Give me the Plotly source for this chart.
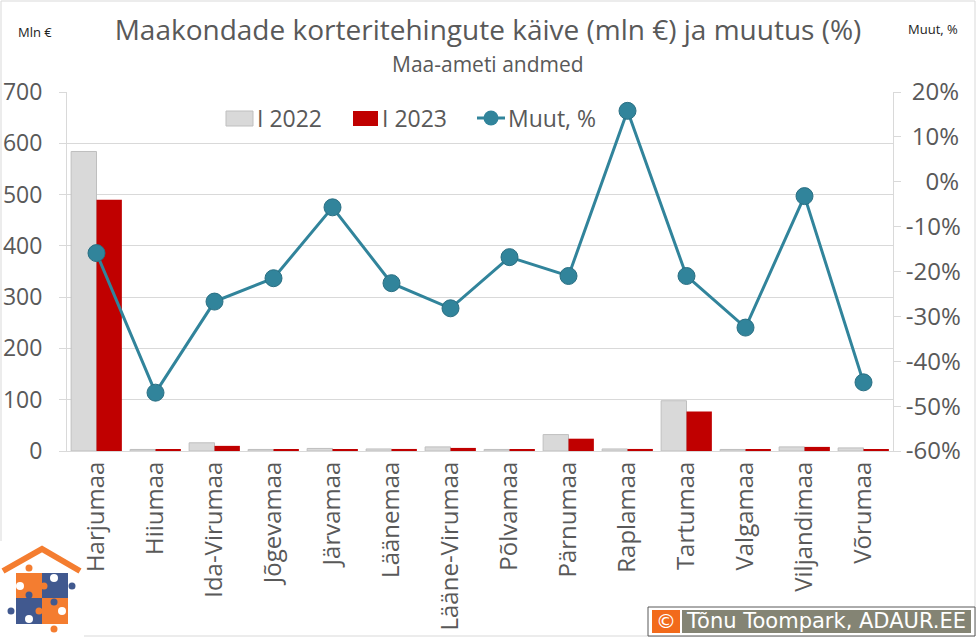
import plotly.graph_objects as go

# Maakondade korteritehingud
counties = ["Harjumaa", "Hiiumaa", "Ida-Virumaa", "Jõgevamaa", "Järvamaa", "Läänemaa", "Lääne-Virumaa",
            "Põlvamaa", "Pärnumaa", "Raplamaa", "Tartumaa", "Valgamaa", "Viljandimaa", "Võrumaa"]
sales_2022 = [584, 3, 16, 3, 5, 4, 8, 3, 32, 4, 98, 3, 8, 6]
sales_2023 = [490, 2.5, 10, 2.5, 3, 4, 6, 2.5, 24, 4, 77, 2, 8, 3]
change_pct = [-15.9, -47, -26.7, -21.5, -5.7, -22.6, -28.2, -16.8, -21, 15.8, -21, -32.5, -3.2, -44.7]
pct_ticks = [20, 10, 0, -10, -20, -30, -40, -50, -60]
# leading spaces keep the right axis labels right-aligned like in the original
pct_labels = ["\u200520%", "\u200510%", "\u2007\u20050%", "-10%", "-20%", "-30%", "-40%", "-50%", "-60%"]

W, H = 976, 637
L, R, T, B = 67, 83, 92, 186
FONT = "Open Sans"
TXT = "#595959"
GRID = "#d9d9d9"
ORANGE = "#f47d30"
BLUE = "#41598f"
TEAL = "#31849b"


# pixel position -> paper coordinates, for the logo, legend and corner texts
def px(x):
    return (x - L) / (W - L - R)


def py(y):
    return 1 - (y - T) / (H - T - B)


def rect(x0, y0, x1, y1, fill, line=None):
    return dict(type="rect", xref="paper", yref="paper", x0=px(x0), y0=py(y0), x1=px(x1), y1=py(y1),
                fillcolor=fill, line=dict(color=line or fill, width=1 if line else 0))


def dot(x, y, r, fill):
    return rect(x - r, y - r, x + r, y + r, fill) | {"type": "circle"}


def label(text, x, y, size, color=TXT, family=FONT, anchor="center"):
    return dict(text=text, x=px(x), y=py(y), xref="paper", yref="paper", showarrow=False, xanchor=anchor,
                yanchor="middle", font=dict(size=size, color=color, family=family))


fig = go.Figure()
fig.add_bar(x=counties, y=sales_2022, name="I 2022", marker=dict(color="#d9d9d9", line=dict(color="#bfbfbf", width=1)))
fig.add_bar(x=counties, y=sales_2023, name="I 2023", marker=dict(color="#c00000", line=dict(width=0)))
fig.add_scatter(x=counties, y=change_pct, name="Muut, %", yaxis="y2", mode="lines+markers",
                line=dict(color=TEAL, width=3),
                marker=dict(size=17, color=TEAL, line=dict(color="#2a6f83", width=1)))

shapes = [
    # chart frame
    rect(1, 1, 975, 636, "rgba(0,0,0,0)", GRID) | {"layer": "below"},
    # legend
    rect(226, 111, 253, 126, "#d9d9d9", "#bfbfbf"),
    rect(353, 111, 378, 126, "#c00000"),
    dict(type="line", xref="paper", yref="paper", x0=px(477), x1=px(505), y0=py(118), y1=py(118),
         line=dict(color=TEAL, width=3)),
    dot(491, 118, 7.5, TEAL),
    # logo
    rect(0, 541, 84, 637, "white"),
    rect(16, 573, 42, 598, ORANGE),
    rect(42, 573, 68, 598, BLUE),
    rect(16, 598, 42, 624, BLUE),
    rect(42, 598, 68, 624, ORANGE),
    dot(29, 568, 3.5, ORANGE),
    dot(20, 586, 4, "white"),
    dot(54, 578, 4, "white"),
    dot(72, 586, 3.5, BLUE),
    dot(44, 586, 3.5, ORANGE),
    dot(29, 595, 3.5, BLUE),
    dot(11, 611, 3.5, BLUE),
    dot(29, 619, 4, "white"),
    dot(39, 611, 3.5, ORANGE),
    dot(62, 611, 4, "white"),
    dot(54, 629, 3.5, ORANGE),
    dot(54, 602, 3.5, BLUE),
    dict(type="path", xref="paper", yref="paper",
         path=f"M {px(3)} {py(571)} L {px(42)} {py(549)} L {px(80)} {py(571)}",
         line=dict(color=ORANGE, width=6)),
    # credit box
    rect(648, 607, 975, 636, "white", "#595959"),
    rect(652, 610, 680, 633, "#f26a1b"),
    rect(682, 610, 971, 633, "#848474"),
]

annotations = [
    label("Maa-ameti andmed", 488, 64, 21),
    label("Mln €", 35, 32, 13, "#222222"),
    label("Muut, %", 933, 29, 13, "#222222"),
    label("I 2022", 255, 118, 23, anchor="left"),
    label("I 2023", 380, 118, 23, anchor="left"),
    label("Muut, %", 506, 118, 23, anchor="left"),
    label("©", 665.5, 621, 20, "white", "DejaVu Sans"),
    label("Tõnu Toompark, ADAUR.EE", 826, 621, 21, "white", "DejaVu Sans"),
]

fig.update_layout(
    width=W, height=H, margin=dict(l=L, r=R, t=T, b=B), autosize=False,
    paper_bgcolor="white", plot_bgcolor="white",
    font=dict(family=FONT, color=TXT),
    showlegend=False,
    barmode="group", bargap=0.14, bargroupgap=0,
    title=dict(text="Maakondade korteritehingute käive (mln €) ja muutus (%)", x=488 / W, xanchor="center",
               y=1 - 30 / H, yanchor="middle", font=dict(size=28, color=TXT, family=FONT)),
    xaxis=dict(tickangle=-90, tickfont=dict(size=24, color=TXT), showline=True, linecolor=GRID, linewidth=1,
               ticks="", showgrid=False, range=[-0.5, 13.5], automargin=False),
    yaxis=dict(range=[0, 700], dtick=100, tickfont=dict(size=23, color=TXT), gridcolor=GRID, gridwidth=1,
               showline=True, linecolor=GRID, ticks="outside", ticklen=7, tickcolor=GRID, zeroline=False,
               automargin=False, ticklabelstandoff=12),
    yaxis2=dict(range=[-60, 20], tickvals=pct_ticks, ticktext=pct_labels, overlaying="y", side="right",
                tickfont=dict(size=24, color=TXT), showgrid=False, showline=True, linecolor=GRID,
                ticks="outside", ticklen=7, tickcolor=GRID, zeroline=False, automargin=False),
    shapes=shapes, annotations=annotations,
)

# the page's default body margin would push the figure off the 976x637 window
fig.write_html("out.html", config=dict(displayModeBar=False),
               post_script="document.body.style.margin='0';document.body.style.overflow='hidden';")
